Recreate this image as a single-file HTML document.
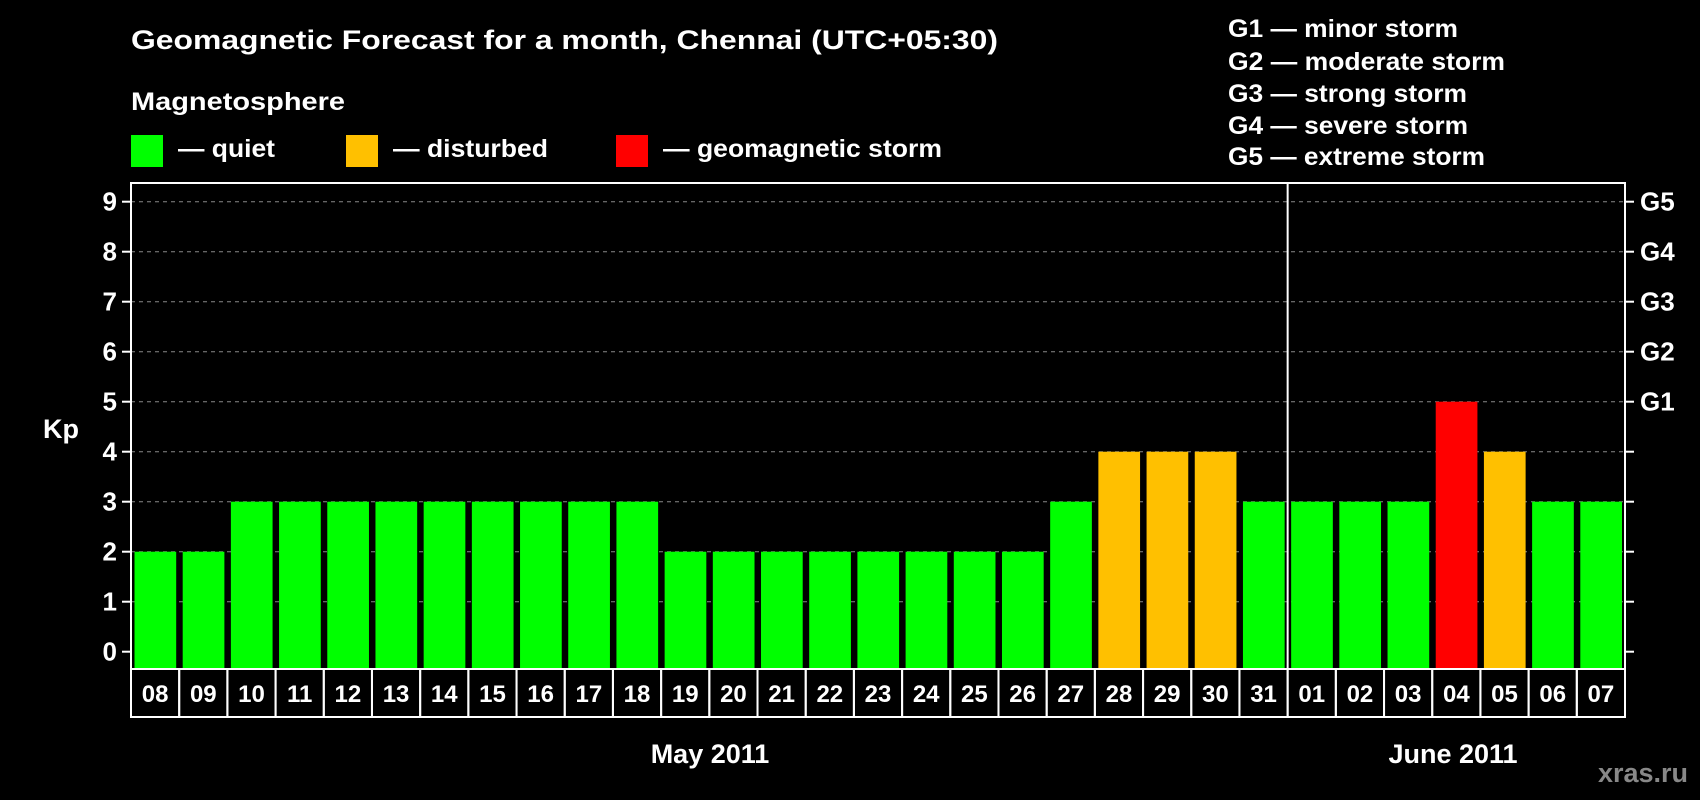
<!DOCTYPE html>
<html><head><meta charset="utf-8"><style>
html,body{margin:0;padding:0;background:#000;width:1700px;height:800px;overflow:hidden}
svg text{font-family:"Liberation Sans",sans-serif;font-weight:bold;fill:#fff}
</style></head><body>
<svg id="chart" width="1700" height="800" xmlns="http://www.w3.org/2000/svg">
<text x="131" y="49" font-size="27" textLength="867" lengthAdjust="spacingAndGlyphs">Geomagnetic Forecast for a month, Chennai (UTC+05:30)</text>
<text x="131" y="110" font-size="25" textLength="214" lengthAdjust="spacingAndGlyphs">Magnetosphere</text>
<rect x="131" y="135" width="32" height="32" fill="#00ff00"/>
<text x="178" y="157" font-size="25" textLength="97" lengthAdjust="spacingAndGlyphs">— quiet</text>
<rect x="346" y="135" width="32" height="32" fill="#ffc000"/>
<text x="393" y="157" font-size="25" textLength="155" lengthAdjust="spacingAndGlyphs">— disturbed</text>
<rect x="616" y="135" width="32" height="32" fill="#ff0000"/>
<text x="663" y="157" font-size="25" textLength="279" lengthAdjust="spacingAndGlyphs">— geomagnetic storm</text>
<text x="1228" y="37" font-size="25" textLength="230" lengthAdjust="spacingAndGlyphs">G1 — minor storm</text>
<text x="1228" y="70" font-size="25" textLength="277" lengthAdjust="spacingAndGlyphs">G2 — moderate storm</text>
<text x="1228" y="102" font-size="25" textLength="239" lengthAdjust="spacingAndGlyphs">G3 — strong storm</text>
<text x="1228" y="134" font-size="25" textLength="240" lengthAdjust="spacingAndGlyphs">G4 — severe storm</text>
<text x="1228" y="165" font-size="25" textLength="257" lengthAdjust="spacingAndGlyphs">G5 — extreme storm</text>
<text x="43" y="438" font-size="27">Kp</text>
<text x="710" y="763" font-size="27" text-anchor="middle">May 2011</text>
<text x="1453" y="763" font-size="27" text-anchor="middle">June 2011</text>
<text x="1643" y="782" font-size="27" text-anchor="middle" style="fill:#888">xras.ru</text>
<g id="marks"></g>
</svg>
<script>
const days = ["08","09","10","11","12","13","14","15","16","17","18","19","20","21","22","23","24","25","26","27","28","29","30","31","01","02","03","04","05","06","07"];
const kpValues = [2,2,3,3,3,3,3,3,3,3,3,2,2,2,2,2,2,2,2,3,4,4,4,3,3,3,3,5,4,3,3];
const yTicks = [0,1,2,3,4,5,6,7,8,9];
const gLabels = ["G1","G2","G3","G4","G5"];
const gLevels = [5,6,7,8,9];
const monthStartIndex = 24;

const NS = "http://www.w3.org/2000/svg";
const g = document.getElementById("marks");
const L = 131, R = 1625, T = 183, B = 669;
const slot = (R - L) / days.length;
const xPos = i => L + i * slot;
const yPos = v => 651.7 - v * 50;
function mk(tag, attrs){const e=document.createElementNS(NS,tag);for(const k in attrs)e.setAttribute(k,attrs[k]);g.appendChild(e);return e;}
function color(v){return v>=5?"#ff0000":v>=4?"#ffc000":"#00ff00";}

yTicks.forEach(v=>{
  if(v>0){const l=mk("line",{x1:L,x2:R,y1:yPos(v),y2:yPos(v),stroke:"#888","stroke-width":1,"stroke-dasharray":"4,4"});
  
  }
  const t1=mk("line",{x1:L-9,x2:L,y1:yPos(v),y2:yPos(v),stroke:"#fff","stroke-width":2});
  
  
  const t2=mk("line",{x1:R,x2:R+9,y1:yPos(v),y2:yPos(v),stroke:"#fff","stroke-width":2});
  
  
  const tx=mk("text",{x:117,y:yPos(v)+9,"font-size":26,"text-anchor":"end"});
  tx.textContent=v;
  
  
});
gLabels.forEach((s,i)=>{
  const tx=mk("text",{x:1640,y:yPos(gLevels[i])+9,"font-size":26});
  tx.textContent=s;
  
  
});
kpValues.forEach((v,i)=>{
  const r=mk("rect",{x:xPos(i)+3.5,y:yPos(v),width:slot-6.5,height:B-1-yPos(v),fill:color(v)});
  
  
});
const frame=mk("rect",{x:L,y:T,width:R-L,height:B-T,fill:"none",stroke:"#fff","stroke-width":2});


const sep=mk("line",{x1:xPos(monthStartIndex),x2:xPos(monthStartIndex),y1:T,y2:B,stroke:"#fff","stroke-width":2});


days.forEach((d,i)=>{
  const c=mk("rect",{x:xPos(i),y:B,width:slot,height:48,fill:"none",stroke:"#fff","stroke-width":2});
  
  
  const t=mk("text",{x:xPos(i)+slot/2,y:B+33,"font-size":24,"text-anchor":"middle"});
  t.textContent=d;
  
  
});
</script>
</body></html>
